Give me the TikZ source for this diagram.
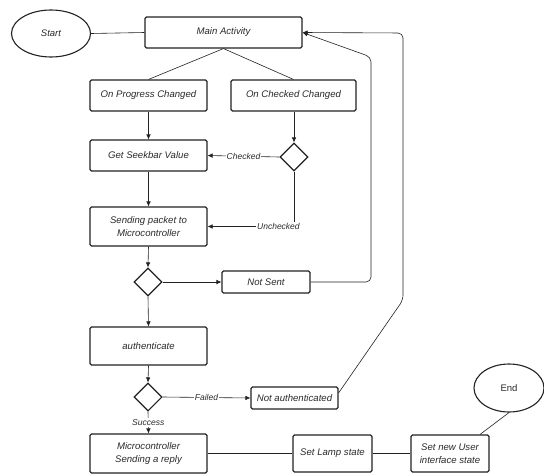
\documentclass[tikz,border=0pt]{standalone}
\usepackage{fontspec}
\setmainfont{Liberation Sans}
\usetikzlibrary{shapes.geometric,arrows.meta}
\definecolor{ink}{HTML}{222222}
\definecolor{txt}{HTML}{2A2A2A}
\begin{document}
\begin{tikzpicture}[x=1pt,y=-1pt,
  box/.style={draw=ink, line width=1.1pt, rounded corners=1.5pt, inner sep=0pt, align=center,
    text=txt, font=\fontsize{9.6}{13}\selectfont\itshape},
  dia/.style={draw=ink, line width=1.1pt, diamond, minimum width=28pt, minimum height=28pt, inner sep=0pt},
  oval/.style={draw=ink, line width=1.1pt, ellipse, inner sep=0pt, text=txt},
  conn/.style={draw=ink, line width=0.6pt},
  arr/.style={conn, -{Latex[length=5pt,width=4.5pt]}},
  lbl/.style={fill=white, inner sep=1pt, text=txt, font=\fontsize{8.5}{10}\selectfont\itshape}
]
\fill[white] (0,0) rectangle (544,474);
\useasboundingbox (0,0) rectangle (544,474);

\node[oval, minimum width=79pt, minimum height=47pt, font=\fontsize{9.5}{11.5}\selectfont\itshape] (start) at (51,33.5) {Start};
\node[box, minimum width=157pt, minimum height=31pt] (main) at (223.5,32.5) {Main Activity};
\node[box, minimum width=117pt, minimum height=31pt] (opc) at (148.5,95.5) {On Progress Changed};
\node[box, minimum width=125pt, minimum height=31pt] (occ) at (293.5,95.5) {On Checked Changed};
\node[box, minimum width=117pt, minimum height=31pt] (seek) at (148.5,155.5) {Get Seekbar Value};
\node[dia] (d1) at (294,157) {};
\node[box, minimum width=117pt, minimum height=39pt] (send) at (148.5,226.5) {Sending packet to\\Microcontroller};
\node[dia] (d2) at (148,282) {};
\node[box, minimum width=88pt, minimum height=22pt] (notsent) at (266,282) {Not Sent};
\node[box, minimum width=117pt, minimum height=38pt] (auth) at (148.5,346) {authenticate};
\node[dia] (d3) at (148,397) {};
\node[box, minimum width=87pt, minimum height=22pt] (notauth) at (294.5,398) {Not authenticated};
\node[box, minimum width=117pt, minimum height=39pt] (micro) at (148.5,453.5) {Microcontroller\\Sending a reply};
\node[box, minimum width=79pt, minimum height=37pt] (lamp) at (332.5,453.5) {Set Lamp state};
\node[box, minimum width=78pt, minimum height=37pt] (setui) at (450,453.5) {Set new User\\interface state};
\node[oval, minimum width=70pt, minimum height=48pt, font=\fontsize{9.5}{11.5}\selectfont] (end) at (509,388) {End};

\coordinate (r1) at (371,282);
\coordinate (r2) at (371,57);
\coordinate (q1) at (403,300);
\coordinate (q2) at (403,33);

\draw[conn] (start.east) -- (main.west);
\draw[conn] (main.south) -- (opc.north);
\draw[conn] (main.south) -- (occ.north);
\draw[arr] (opc.south) -- (seek.north);
\draw[arr] (occ.south -| d1.north) -- (d1.north);
\draw[arr] (d1.west) -- node[lbl] {Checked} (seek.east);
\draw[arr] (d1.south) |- node[lbl, pos=0.59] {Unchecked} (send.east);
\draw[arr] (seek.south) -- (send.north);
\draw[arr] (send.south) -- (d2.north);
\draw[arr] (d2.east) -- (notsent.west);
\draw[arr, rounded corners=5pt] (notsent.east) -- (r1) -- (r2) -- (main.east);
\draw[arr] (d2.south) -- (auth.north);
\draw[arr] (auth.south) -- (d3.north);
\draw[arr] (d3.east) -- node[lbl] {Failed} (notauth.west);
\draw[arr, rounded corners=5pt] ([yshift=5pt]notauth.east) -- (q1) -- (q2) -- (main.east);
\draw[arr] (d3.south) -- node[lbl] {Success} (micro.north);
\draw[conn] (micro.east) -- (lamp.west);
\draw[conn] (lamp.east) -- (setui.west);
\draw[conn] ([xshift=30pt]setui.north) -- (end.south);
\end{tikzpicture}
\end{document}
